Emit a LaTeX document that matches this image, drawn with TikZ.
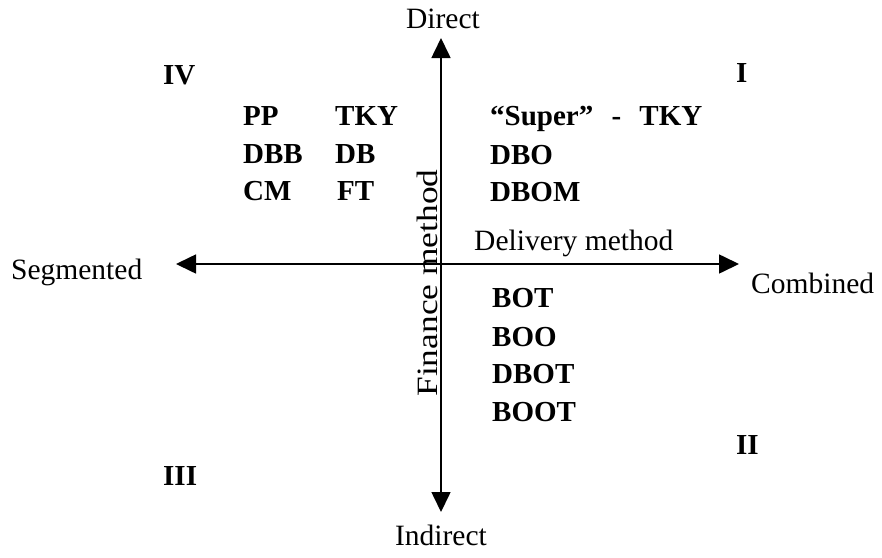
\documentclass[tikz,border=0pt]{standalone}
\usepackage{fontspec}
\setmainfont{Liberation Serif}
\usetikzlibrary{arrows.meta}

\begin{document}
\begin{tikzpicture}[x=1pt,y=-1pt,
  axis/.style={line width=1.6pt,{Triangle[length=20pt,width=19pt]}-{Triangle[length=20pt,width=19pt]}},
  lbl/.style={inner sep=0pt,font=\fontsize{29.5}{34}\selectfont},
  item/.style={inner sep=0pt,anchor=base west,font=\fontsize{29}{33}\selectfont\bfseries},
  quad/.style={item}
]
\useasboundingbox (0,0) rectangle (882,557);

% axis end points
\coordinate (N) at (441,38);
\coordinate (S) at (441,512);
\coordinate (W) at (176,264);
\coordinate (E) at (739,264);

\draw[axis] (W) -- (E);
\draw[axis] (S) -- (N);

% axis labels
\node[lbl,anchor=base] (direct) at (443,28) {Direct};
\node[lbl,anchor=base] (indirect) at (441,545) {Indirect};
\node[lbl,anchor=base west] (segmented) at (11,279) {Segmented};
\node[lbl,anchor=base west] (combined) at (751,293) {Combined};
\node[lbl,anchor=base west] (delivery) at (474,250) {Delivery method};
\node[lbl,anchor=base,rotate=90] (finance) at (437,283) {\scalebox{1.2}[1]{Finance method}};

% quadrant numbers
\node[quad] (qIV) at (163,84) {IV};
\node[quad] (qI) at (736,82) {I};
\node[quad] (qII) at (736,454) {II};
\node[quad] (qIII) at (163,485) {III};

% quadrant IV entries
\node[item] (pp)  at (243,125) {PP};
\node[item] (tky) at (335,125) {TKY};
\node[item] (dbb) at (243,163) {DBB};
\node[item] (db)  at (335,163) {DB};
\node[item] (cm)  at (243,200) {CM};
\node[item] (ft)  at (337,200) {FT};

% quadrant I entries
\node[item] (super) at (490,125) {“Super”\hspace{11pt} -\hspace{11pt} TKY};
\node[item] (dbo)   at (490,164) {DBO};
\node[item] (dbom)  at (490,201) {DBOM};

% quadrant II entries
\node[item] (bot)  at (492,307) {BOT};
\node[item] (boo)  at (492,346) {BOO};
\node[item] (dbot) at (492,383) {DBOT};
\node[item] (boot) at (492,421) {BOOT};
\end{tikzpicture}
\end{document}
